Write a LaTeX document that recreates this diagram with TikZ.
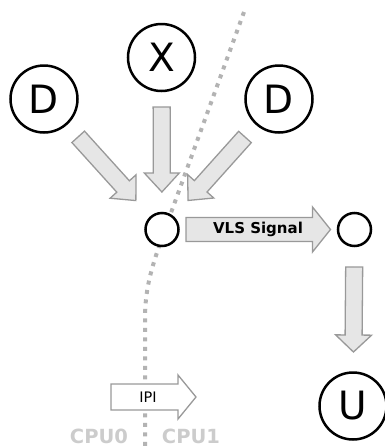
\documentclass[tikz,border=0pt]{standalone}
\usepackage{fontspec}
\setmainfont{DejaVu Sans}
\usetikzlibrary{calc}

\definecolor{arrowfill}{HTML}{E6E6E6}
\definecolor{arrowline}{HTML}{999999}
\definecolor{cpuline}{HTML}{B3B3B3}
\definecolor{cputext}{HTML}{CCCCCC}

% block arrow: style, tail, tip, half shaft width, half head width, head length
\newcommand\blockarrow[6]{%
  \coordinate (ba-s) at #2;
  \coordinate (ba-e) at #3;
  \coordinate (ba-b) at ($(ba-e)!#6!(ba-s)$);
  \draw[#1] ($(ba-s)!#4!90:(ba-e)$) -- ($(ba-b)!#4!90:(ba-e)$)
    -- ($(ba-b)!#5!90:(ba-e)$) -- (ba-e) -- ($(ba-b)!#5!-90:(ba-e)$)
    -- ($(ba-b)!#4!-90:(ba-e)$) -- ($(ba-s)!#4!-90:(ba-e)$) -- cycle;
}

\tikzset{
  state/.style={circle, draw=black, fill=white, line width=2.5pt, inner sep=0pt,
    minimum size=67pt, font=\fontsize{39}{41}\selectfont},
  junction/.style={circle, draw=black, fill=white, line width=2.5pt, inner sep=0pt,
    minimum size=33pt},
  flow/.style={fill=arrowfill, draw=arrowline, line width=1.3pt, line join=miter},
  ipiarrow/.style={fill=white, draw=arrowline, line width=1.3pt, line join=miter},
  cpuborder/.style={draw=cpuline, line width=4pt, dash pattern=on 4pt off 5.5pt},
  cpulabel/.style={text=cputext, font=\bfseries\fontsize{19.5}{22}\selectfont},
}

\begin{document}
\begin{tikzpicture}[x=1pt, y=-1pt]
  \useasboundingbox (0,0) rectangle (384,448);

  % boundary between the two CPUs
  \coordinate (top) at (244,12);
  \coordinate (bottom) at (145,452);
  \draw[cpuborder] (top) -- (172,210) .. controls (152,265) and (145,285) .. (145,320) -- (bottom);

  % nodes
  \node[state] (dl) at (44,99) {D};
  \node[state] (x) at (161.5,57.5) {X};
  \node[state] (dr) at (279,99) {D};
  \node[junction] (j) at (162,229.5) {};
  \node[junction] (r) at (354.5,229.5) {};
  \node[state] (u) at (353,406) {U};

  % flows into the first junction
  \blockarrow{flow}{($(dl)!51pt!(j)$)}{($(j)!39pt!(dl)$)}{8.5pt}{17.5pt}{19pt}
  \blockarrow{flow}{($(x)!49.5pt!(j)$)}{($(j)!37.5pt!(x)$)}{8.5pt}{17.5pt}{19pt}
  \blockarrow{flow}{($(dr)!51pt!(j)$)}{($(j)!39pt!(dr)$)}{8.5pt}{17.5pt}{19pt}

  % signal across CPUs
  \blockarrow{flow}{($(j)!24pt!(r)$)}{($(r)!24pt!(j)$)}{12pt}{22.5pt}{18pt}
  \node[font=\bfseries\fontsize{15}{17}\selectfont] (vls) at (258,229.5) {VLS Signal};

  % down to U
  \blockarrow{flow}{($(r)!37.5pt!(u)$)}{($(u)!54pt!(r)$)}{8.5pt}{18pt}{17pt}

  % inter-processor interrupt
  \coordinate (ipis) at (111,397);
  \coordinate (ipie) at (196,397);
  \blockarrow{ipiarrow}{(ipis)}{(ipie)}{13pt}{22pt}{18pt}
  \node[font=\fontsize{14.5}{17}\selectfont] (ipi) at (148,397) {IPI};

  % CPU labels
  \node[cpulabel] (cpu0) at (99,436.5) {CPU0};
  \node[cpulabel] (cpu1) at (191,436.5) {CPU1};
\end{tikzpicture}
\end{document}
